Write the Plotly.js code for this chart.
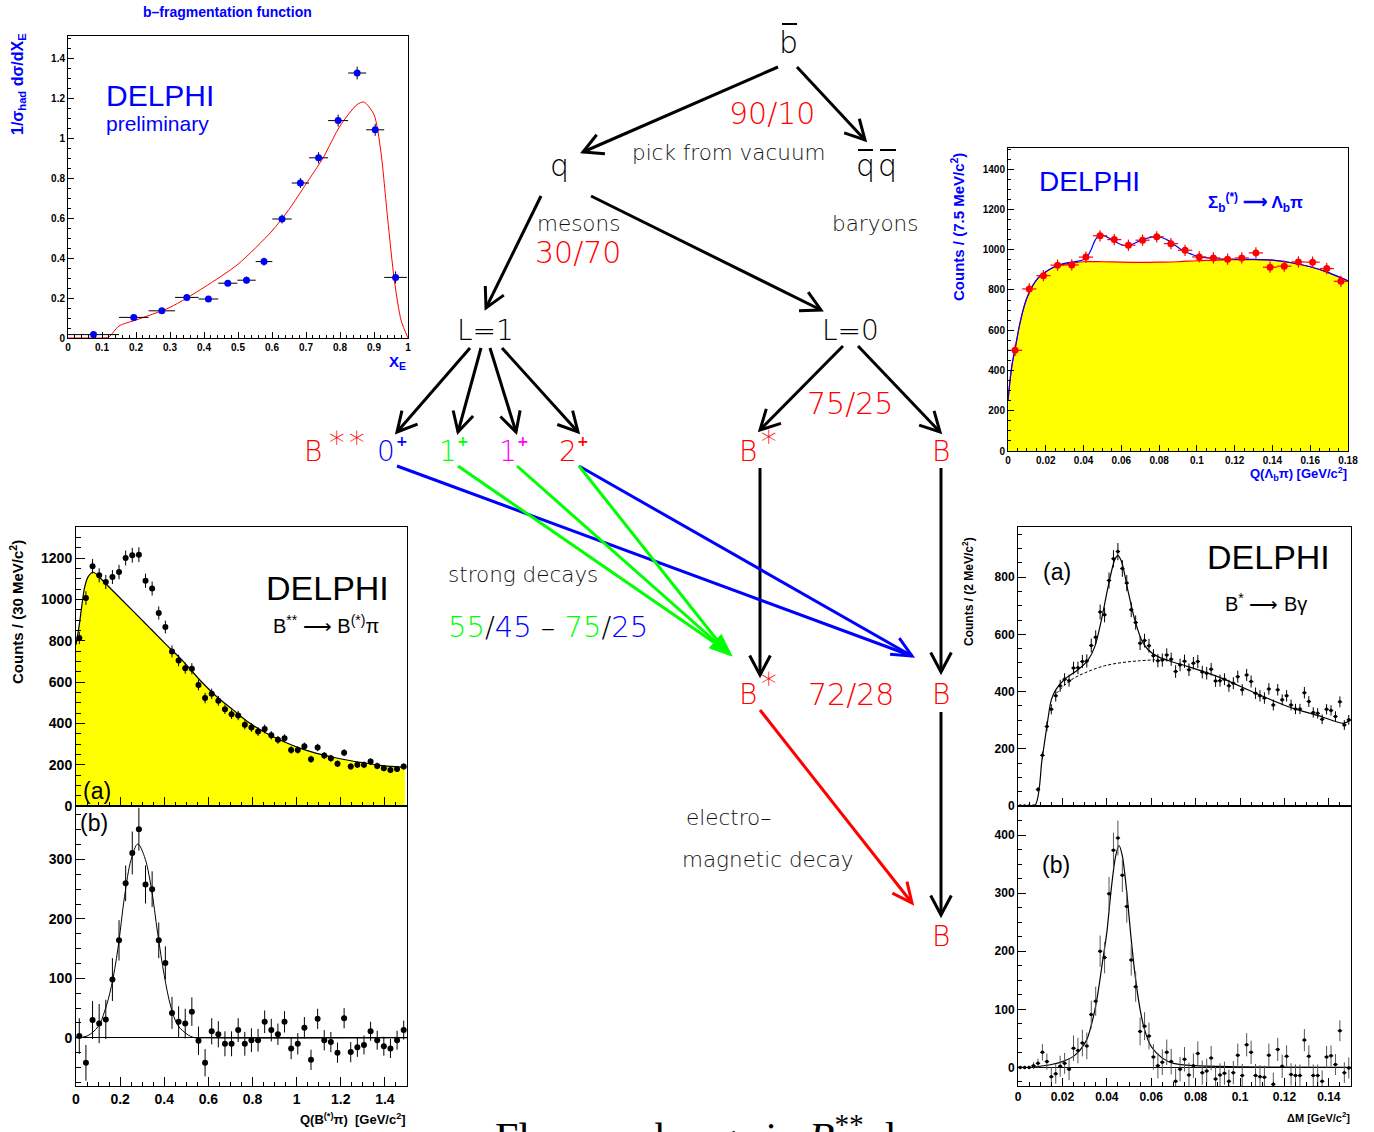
<!DOCTYPE html>
<html><head><meta charset="utf-8">
<script src="https://cdn.plot.ly/plotly-3.0.1.min.js"></script>
<style>body{margin:0;background:#fff}</style>
</head><body><div id="chart" style="width:1374px;height:1132px"></div>
<script>
// ---------------- DATA ----------------
// b-fragmentation function
const fragX    = [0.075,0.1935,0.276,0.3495,0.413,0.470,0.525,0.5765,0.6295,0.6835,0.737,0.7945,0.8505,0.9035,0.9635];
const fragXErr = [0.075,0.0435,0.039,0.0345,0.029,0.028,0.027,0.0245,0.0285,0.0255,0.028,0.0295,0.0265,0.0265,0.0335];
const fragY    = [0.017,0.103,0.136,0.203,0.195,0.274,0.289,0.382,0.595,0.775,0.901,1.087,1.325,1.041,0.303];
const fragYErr = [0.01,0.012,0.012,0.012,0.012,0.015,0.018,0.02,0.022,0.025,0.028,0.03,0.032,0.03,0.03];
const fragCurveX = [0,0.05,0.1,0.12,0.15,0.2,0.3,0.4,0.5,0.6,0.65,0.7,0.75,0.8,0.85,0.87,0.9,0.92,0.94,0.96,0.98,1.0];
const fragCurveY = [0,0,0,0.005,0.06,0.09,0.153,0.253,0.369,0.535,0.643,0.77,0.9,1.06,1.167,1.18,1.117,0.935,0.6,0.286,0.086,0];

// Sigma_b -> Lambda_b pi
const sigX = [0.00375,0.01125,0.01875,0.02625,0.03375,0.04125,0.04875,0.05625,0.06375,0.07125,0.07875,0.08625,0.09375,0.10125,0.10875,0.11625,0.12375,0.13125,0.13875,0.14625,0.15375,0.16125,0.16875,0.17625];
const sigY = [500,805,871,923,924,963,1069,1050,1022,1047,1064,1030,997,964,959,953,959,984,913,918,939,938,906,843];
const sigYErr = [28,28,28,28,28,28,28,28,28,28,28,28,28,28,28,28,28,28,28,28,28,28,28,28];
const sigXErr = [0.00375,0.00375,0.00375,0.00375,0.00375,0.00375,0.00375,0.00375,0.00375,0.00375,0.00375,0.00375,0.00375,0.00375,0.00375,0.00375,0.00375,0.00375,0.00375,0.00375,0.00375,0.00375,0.00375,0.00375];
const sigBgX = [0,0.002,0.004,0.006,0.008,0.01,0.013,0.016,0.02,0.025,0.03,0.035,0.04,0.05,0.06,0.07,0.08,0.09,0.1,0.11,0.12,0.13,0.14,0.15,0.16,0.17,0.18];
const sigBgY = [250,420,520,620,700,760,820,860,890,915,928,935,940,940,938,937,938,940,945,948,950,951,948,935,915,885,845];
const sigTotX = [0,0.002,0.004,0.006,0.008,0.01,0.013,0.016,0.02,0.025,0.03,0.035,0.04,0.042,0.044,0.046,0.048,0.05,0.052,0.055,0.058,0.061,0.064,0.067,0.07,0.073,0.076,0.079,0.082,0.085,0.088,0.091,0.094,0.097,0.1,0.105,0.11,0.12,0.13,0.14,0.15,0.16,0.17,0.18];
const sigTotY = [250,420,520,620,700,760,820,860,890,918,932,940,950,965,1000,1045,1070,1072,1065,1050,1033,1022,1022,1032,1045,1055,1062,1063,1058,1045,1025,1005,990,978,968,960,955,952,952,948,935,915,885,845];

// B** -> B(*) pi  (bin centres, 30 MeV bins)
const bssX = [0.015,0.045,0.075,0.105,0.135,0.165,0.195,0.225,0.255,0.285,0.315,0.345,0.375,0.405,0.435,0.465,0.495,0.525,0.555,0.585,0.615,0.645,0.675,0.705,0.735,0.765,0.795,0.825,0.855,0.885,0.915,0.945,0.975,1.005,1.035,1.065,1.095,1.125,1.155,1.185,1.215,1.245,1.275,1.305,1.335,1.365,1.395,1.425,1.455,1.485];
const bssAY = [813,1006,1160,1116,1084,1108,1132,1200,1213,1216,1090,1052,934,866,748,704,667,664,586,522,543,509,468,444,438,393,380,360,373,342,320,328,271,271,289,226,283,244,231,205,258,191,200,199,215,194,183,174,179,191];
const bssAErr = [30,33,35,34,34,34,35,36,36,36,34,34,32,31,29,28,27,27,26,25,25,24,23,23,23,22,21,21,21,20,19,19,18,18,18,17,18,17,17,16,17,16,16,16,16,16,15,15,15,15];
const bssBgX = [0,0.014,0.026,0.04,0.056,0.078,0.109,0.169,0.26,0.335,0.41,0.486,0.56,0.637,0.712,0.788,0.863,0.94,1.014,1.09,1.165,1.24,1.316,1.39,1.49];
const bssBgY = [780,870,966,1063,1111,1131,1103,1039,942,861,780,700,611,530,465,400,352,312,280,255,236,220,207,195,187];
const bssBY = [3,-42,30,24,31,98,164,260,311,351,258,250,164,126,42,27,24,44,-5,-42,11,6,-10,-10,13,-10,-4,-4,27,13,6,27,-18,-10,17,-37,32,-4,-7,-25,33,-24,-16,-12,11,-4,-14,-18,-4,13];
const bssBErr = [30,30,32,33,33,36,34,30,36,36,32,30,30,28,27,26,25,24,24,23,22,22,21,21,20,20,20,19,19,19,18,18,18,18,18,17,17,17,17,17,17,17,16,16,16,16,16,16,16,16];
const bssFitX = [0,0.05,0.1,0.13,0.16,0.19,0.22,0.25,0.28,0.31,0.34,0.37,0.4,0.43,0.46,0.49,0.53,0.6,1.5];
const bssFitY = [0,3,19,45,86,150,238,300,326,305,255,176,105,52,22,10,1,0,0];

// B* -> B gamma  (bin centres, 2 MeV bins)
const bsX = [0.001,0.003,0.005,0.007,0.009,0.011,0.013,0.015,0.017,0.019,0.021,0.023,0.025,0.027,0.029,0.031,0.033,0.035,0.037,0.039,0.041,0.043,0.045,0.047,0.049,0.051,0.053,0.055,0.057,0.059,0.061,0.063,0.065,0.067,0.069,0.071,0.073,0.075,0.077,0.079,0.081,0.083,0.085,0.087,0.089,0.091,0.093,0.095,0.097,0.099,0.101,0.103,0.105,0.107,0.109,0.111,0.113,0.115,0.117,0.119,0.121,0.123,0.125,0.127,0.129,0.131,0.133,0.135,0.137,0.139,0.141,0.143,0.145,0.147,0.149];
const bsXErr = [0.001,0.001,0.001,0.001,0.001,0.001,0.001,0.001,0.001,0.001,0.001,0.001,0.001,0.001,0.001,0.001,0.001,0.001,0.001,0.001,0.001,0.001,0.001,0.001,0.001,0.001,0.001,0.001,0.001,0.001,0.001,0.001,0.001,0.001,0.001,0.001,0.001,0.001,0.001,0.001,0.001,0.001,0.001,0.001,0.001,0.001,0.001,0.001,0.001,0.001,0.001,0.001,0.001,0.001,0.001,0.001,0.001,0.001,0.001,0.001,0.001,0.001,0.001,0.001,0.001,0.001,0.001,0.001,0.001,0.001,0.001,0.001,0.001,0.001,0.001];
const bsAY = [0,0,0,0,58,177,278,338,385,420,443,438,482,483,505,507,561,590,678,668,788,864,889,830,779,686,641,569,578,560,525,508,510,528,513,470,493,506,476,499,505,468,464,478,437,438,443,420,429,452,406,458,435,394,385,377,409,353,406,371,385,353,339,339,396,365,327,324,303,338,334,313,364,283,301];
const bsAErr = [0,0,0,0,8,13,17,18,20,21,21,21,22,22,23,23,24,24,26,26,28,30,30,29,28,26,25,24,24,24,23,23,23,23,23,22,22,23,22,22,23,22,22,22,21,21,21,21,21,21,20,21,21,20,20,20,20,19,20,19,20,19,18,18,20,19,18,18,17,18,18,18,19,17,17];
const bsAFitX = [0,0.0075,0.0108,0.013,0.015,0.017,0.021,0.027,0.0316,0.0346,0.0376,0.0406,0.0436,0.045,0.0466,0.0496,0.0526,0.0556,0.0586,0.063,0.069,0.0767,0.0917,0.107,0.1218,0.1368,0.1465,0.15];
const bsAFitY = [0,0,161,278,371,406,443,476,511,557,651,767,861,875,855,750,651,581,546,522,505,487,447,394,347,312,289,301];
const bsABgX = [0.0173,0.024,0.0316,0.039,0.0466,0.054,0.0616];
const bsABgY = [394,441,470,490,501,507,511];
const bsBY = [0,0,0,3,7,26,10,-16,-11,2,7,-3,33,29,42,37,91,114,200,189,299,374,395,331,277,185,139,62,71,54,18,3,9,26,10,-24,-3,14,-13,3,24,-9,-6,16,-20,-13,-10,-24,-9,21,-14,39,26,-14,-16,-17,21,-29,31,2,19,-12,-14,-14,47,19,-14,-14,-24,18,20,5,63,-9,-1];
const bsBErr = [3,3,3,6,8,14,14,16,17,18,18,19,22,22,23,23,24,25,27,27,29,30,30,29,28,27,26,24,24,23,22,22,22,22,22,22,21,21,21,21,21,21,21,21,21,20,20,20,20,20,20,20,20,20,20,20,20,20,20,20,19,19,19,19,19,19,19,19,19,19,18,18,18,18,18];
const bsBFitX = [0,0.005,0.01,0.015,0.02,0.025,0.028,0.031,0.034,0.036,0.038,0.04,0.042,0.044,0.0455,0.047,0.049,0.051,0.053,0.055,0.057,0.06,0.065,0.07,0.08,0.1,0.15];
const bsBFitY = [0,0,2,5,10,19,30,48,88,128,180,232,307,364,382,364,301,220,151,100,65,36,16,7,3,1,0];

// ---------------- LAYOUT HELPERS ----------------
const W = 1374, H = 1132;
const X = v => v / W, Y = v => 1 - v / H;
const TF = 'Liberation Sans';
const DF = 'DejaVu Sans';
const RED = '#ff0000', BLUE = '#0000ff', GREEN = '#00ff00', MAG = '#ff00ff';

function axis(d0, d1, range, dtick, minor, fs, showLabels, isY, tlen) {
  return {
    domain: isY ? [Y(d1), Y(d0)] : [X(d0), X(d1)],
    range: range, autorange: false, dtick: dtick, tick0: 0,
    ticks: 'inside', ticklen: tlen || 6, tickwidth: 1, tickcolor: '#000',
    minor: {dtick: minor, ticks: 'inside', ticklen: (tlen || 6) / 2, tickcolor: '#000', tickwidth: 1},
    showline: true, linecolor: '#000', linewidth: 1, mirror: true,
    showgrid: false, zeroline: false, showticklabels: showLabels,
    tickfont: {family: TF, size: fs, color: '#000', weight: 'bold'},
    fixedrange: true
  };
}

const traces = [];
// fragmentation
traces.push({x: fragCurveX, y: fragCurveY, xaxis: 'x', yaxis: 'y', mode: 'lines', line: {color: RED, width: 1, shape: 'spline', smoothing: 0.7}});
traces.push({x: fragX, y: fragY, xaxis: 'x', yaxis: 'y', mode: 'markers', marker: {color: BLUE, size: 7},
  error_x: {type: 'data', array: fragXErr, color: '#000', thickness: 1, width: 0},
  error_y: {type: 'data', array: fragYErr, color: '#000', thickness: 1, width: 0}});
// sigma_b
traces.push({x: sigBgX, y: sigBgY, xaxis: 'x2', yaxis: 'y2', mode: 'lines', fill: 'tozeroy', fillcolor: '#ffff00', line: {color: RED, width: 1.2, shape: 'spline'}});
traces.push({x: sigTotX, y: sigTotY, xaxis: 'x2', yaxis: 'y2', mode: 'lines', line: {color: BLUE, width: 1.2, shape: 'spline'}});
traces.push({x: sigX, y: sigY, xaxis: 'x2', yaxis: 'y2', mode: 'markers', marker: {color: RED, size: 7},
  error_x: {type: 'data', array: sigXErr, color: RED, thickness: 1.2, width: 0},
  error_y: {type: 'data', array: sigYErr, color: RED, thickness: 1.2, width: 0}});
// B** (a)
traces.push({x: bssBgX, y: bssBgY, xaxis: 'x3', yaxis: 'y3', mode: 'lines', fill: 'tozeroy', fillcolor: '#ffff00', line: {color: '#000', width: 1.2, shape: 'spline'}});
traces.push({x: bssX, y: bssAY, xaxis: 'x3', yaxis: 'y3', mode: 'markers', marker: {color: '#000', size: 6},
  error_y: {type: 'data', array: bssAErr, color: '#000', thickness: 1, width: 0}});
// B** (b)
traces.push({x: bssFitX, y: bssFitY, xaxis: 'x4', yaxis: 'y4', mode: 'lines', line: {color: '#000', width: 1, shape: 'spline'}});
traces.push({x: bssX, y: bssBY, xaxis: 'x4', yaxis: 'y4', mode: 'markers', marker: {color: '#000', size: 6},
  error_y: {type: 'data', array: bssBErr, color: '#000', thickness: 1, width: 0}});
// B* (a)
traces.push({x: bsABgX, y: bsABgY, xaxis: 'x5', yaxis: 'y5', mode: 'lines', line: {color: '#000', width: 1, dash: '3px,2px', shape: 'spline'}});
traces.push({x: bsAFitX, y: bsAFitY, xaxis: 'x5', yaxis: 'y5', mode: 'lines', line: {color: '#000', width: 1.2, shape: 'spline', smoothing: 0.8}});
traces.push({x: bsX, y: bsAY, xaxis: 'x5', yaxis: 'y5', mode: 'markers', marker: {color: '#000', size: 3.5},
  error_x: {type: 'data', array: bsXErr, color: '#000', thickness: 1, width: 0},
  error_y: {type: 'data', array: bsAErr, color: '#000', thickness: 1, width: 0}});
// B* (b)
traces.push({x: bsBFitX, y: bsBFitY, xaxis: 'x6', yaxis: 'y6', mode: 'lines', line: {color: '#000', width: 1.2, shape: 'spline', smoothing: 0.8}});
traces.push({x: bsX, y: bsBY, xaxis: 'x6', yaxis: 'y6', mode: 'markers', marker: {color: '#000', size: 3.5},
  error_x: {type: 'data', array: bsXErr, color: '#000', thickness: 1, width: 0},
  error_y: {type: 'data', array: bsBErr, color: '#555', thickness: 1, width: 0}});

// ---------------- ANNOTATIONS ----------------
function T(x, y, text, size, color, o) {
  o = o || {};
  return Object.assign({
    xref: 'paper', yref: 'paper', x: X(x), y: Y(y), text: text, showarrow: false,
    xanchor: 'center', yanchor: 'middle',
    font: {family: o.family || DF, size: size, color: color, weight: o.weight || 300},
    textangle: o.angle || 0
  }, o.extra || {});
}
const B = {family: TF, weight: 'bold'};
const ann = [
  // plot titles / axis titles
  T(227, 12, 'b–fragmentation function', 14, BLUE, B),
  T(19, 84, '1/σ<sub>had</sub> dσ/dX<sub>E</sub>', 16, BLUE, {family: TF, weight: 'bold', angle: -90}),
  T(408, 362, 'X<sub>E</sub>', 15, BLUE, {family: TF, weight: 'bold', extra: {xanchor: 'right'}}),
  T(958, 227, 'Counts / (7.5 MeV/c<sup>2</sup>)', 15, BLUE, {family: TF, weight: 'bold', angle: -90}),
  T(1349, 474, 'Q(Λ<sub>b</sub>π) [GeV/c<sup>2</sup>]', 13, BLUE, {family: TF, weight: 'bold', extra: {xanchor: 'right'}}),
  T(16, 612, 'Counts / (30 MeV/c<sup>2</sup>)', 15, '#000', {family: TF, weight: 'bold', angle: -90}),
  T(408, 1119, 'Q(B<sup>(*)</sup>π)  [GeV/c<sup>2</sup>]', 13, '#000', {family: TF, weight: 'bold', extra: {xanchor: 'right'}}),
  T(968, 592, 'Counts / (2 MeV/c<sup>2</sup>)', 12, '#000', {family: TF, weight: 'bold', angle: -90}),
  T(1352, 1117, 'ΔM [GeV/c<sup>2</sup>]', 11, '#000', {family: TF, weight: 'bold', extra: {xanchor: 'right'}}),
  // in-plot labels
  T(104, 95, 'DELPHI', 30, BLUE, {family: TF, weight: 400, extra: {xanchor: 'left'}}),
  T(104, 123, 'preliminary', 21, BLUE, {family: TF, weight: 400, extra: {xanchor: 'left'}}),
  T(1089, 181, 'DELPHI', 28, BLUE, {family: TF, weight: 400}),
  T(1255, 203, 'Σ<sub>b</sub><sup>(*)</sup> ⟶ Λ<sub>b</sub>π', 17, BLUE, {family: TF, weight: 'bold'}),
  T(327, 588, 'DELPHI', 34, '#000', {family: TF, weight: 400}),
  T(326, 624, 'B<sup>**</sup> ⟶ B<sup>(*)</sup>π', 20, '#000', {family: TF, weight: 400}),
  T(97, 791, '(a)', 23, '#000', {family: TF, weight: 400}),
  T(94, 823, '(b)', 23, '#000', {family: TF, weight: 400}),
  T(1268, 557, 'DELPHI', 34, '#000', {family: TF, weight: 400}),
  T(1266, 602, 'B<sup>*</sup> ⟶ Bγ', 20, '#000', {family: TF, weight: 400}),
  T(1057, 572, '(a)', 23, '#000', {family: TF, weight: 400}),
  T(1056, 865, '(b)', 23, '#000', {family: TF, weight: 400}),
  // diagram
  T(789, 42, 'b', 30, '#000'),
  T(559, 165, 'q', 30, '#000'),
  T(866, 165, 'q', 30, '#000'),
  T(888, 165, 'q', 30, '#000'),
  T(772, 113, '90/10', 30, RED),
  T(729, 152, 'pick from vacuum', 21.5, '#111', {weight: 200}),
  T(578, 224, 'mesons', 21.5, '#111', {weight: 200}),
  T(578, 252, '30/70', 30, RED),
  T(875, 224, 'baryons', 21.5, '#111', {weight: 200}),
  T(485, 330, 'L=1', 28, '#000'),
  T(850, 330, 'L=0', 28, '#000'),
  T(850, 403, '75/25', 30, RED),
  T(313, 452, 'B', 28, RED),
  T(347, 437, '∗∗', 32, RED, {weight: 300}),
  T(386, 452, '0', 28, BLUE), T(402, 441, '+', 14, BLUE, {weight: 'bold'}),
  T(448, 452, '1', 28, GREEN), T(463, 441, '+', 14, GREEN, {weight: 'bold'}),
  T(508, 452, '1', 28, MAG), T(523, 441, '+', 14, MAG, {weight: 'bold'}),
  T(568, 452, '2', 28, RED), T(583, 441, '+', 14, RED, {weight: 'bold'}),
  T(748, 452, 'B', 28, RED), T(769, 436, '∗', 32, RED, {weight: 300}),
  T(941, 452, 'B', 28, RED),
  T(523, 575, 'strong decays', 21.5, '#111', {weight: 200}),
  T(548, 627, '<span style="color:#00ff00">55</span>/<span style="color:#0000ff">45</span> – <span style="color:#00ff00">75</span>/<span style="color:#0000ff">25</span>', 29, '#000'),
  T(748, 694, 'B', 28, RED), T(769, 678, '∗', 32, RED, {weight: 300}),
  T(851, 694, '72/28', 30, RED),
  T(941, 694, 'B', 28, RED),
  T(728, 817, 'electro–', 21.5, '#111', {weight: 200}),
  T(768, 859, 'magnetic decay', 21.5, '#111', {weight: 200}),
  T(941, 936, 'B', 28, RED),
  T(734, 1106, 'Flavour change in <i>B</i><sup>**</sup> decay', 42, '#000', {family: 'Liberation Serif', weight: 400, extra: {yanchor: 'top'}})
];

// ---------------- ARROWS (shapes) ----------------
function seg(x0, y0, x1, y1, c, w) {
  return {type: 'line', xref: 'paper', yref: 'paper', x0: X(x0), y0: Y(y0), x1: X(x1), y1: Y(y1), line: {color: c, width: w}};
}
function head(x0, y0, x1, y1, c, w, len, ang, filled) {
  const L = Math.hypot(x1 - x0, y1 - y0), ux = (x0 - x1) / L, uy = (y0 - y1) / L, a = ang * Math.PI / 180;
  const r = s => [x1 + len * (ux * Math.cos(s) - uy * Math.sin(s)), y1 + len * (ux * Math.sin(s) + uy * Math.cos(s))];
  const p = r(a), q = r(-a);
  const path = 'M' + X(p[0]) + ',' + Y(p[1]) + ' L' + X(x1) + ',' + Y(y1) + ' L' + X(q[0]) + ',' + Y(q[1]) + (filled ? ' Z' : '');
  return {type: 'path', xref: 'paper', yref: 'paper', path: path, line: {color: c, width: filled ? 1 : w}, fillcolor: filled ? c : 'rgba(0,0,0,0)'};
}
const blackArrows = [
  [778, 67, 583, 152], [797, 67, 865, 140], [541, 196, 486, 308], [591, 196, 821, 310],
  [470, 348, 397, 432], [481, 348, 458, 432], [490, 348, 516, 432], [502, 348, 578, 432],
  [843, 346, 760, 430], [858, 346, 940, 432],
  [760, 468, 760, 675], [941, 468, 941, 672], [941, 712, 941, 915]
];
const shapes = [];
blackArrows.forEach(a => { shapes.push(seg(a[0], a[1], a[2], a[3], '#000', 3)); shapes.push(head(a[0], a[1], a[2], a[3], '#000', 3, 22, 28, false)); });
// coloured decay arrows
shapes.push(seg(397, 466, 912, 656, BLUE, 3));
shapes.push(seg(579, 466, 912, 656, BLUE, 3));
shapes.push(head(579, 466, 912, 656, BLUE, 3, 22, 25, false));
shapes.push(seg(458, 466, 725, 650, GREEN, 3));
shapes.push(seg(517, 466, 725, 650, GREEN, 3));
shapes.push(seg(579, 466, 725, 650, GREEN, 3));
shapes.push(head(517, 466, 732, 656, GREEN, 3, 24, 22, true));
shapes.push(seg(760, 710, 912, 903, RED, 3));
shapes.push(head(760, 710, 912, 903, RED, 3, 22, 25, false));
// overbars
shapes.push(seg(782, 24, 797, 24, '#000', 2));
shapes.push(seg(858, 150, 873, 150, '#000', 2));
shapes.push(seg(880, 150, 896, 150, '#000', 2));

const layout = {
  width: W, height: H, margin: {l: 0, r: 0, t: 0, b: 0},
  paper_bgcolor: '#fff', plot_bgcolor: '#fff', showlegend: false, hovermode: false,
  xaxis:  axis(68, 408, [0, 1], 0.1, 0.02, 10, true, false, 6),
  yaxis:  axis(36, 338, [0, 1.51], 0.2, 0.05, 10, true, true, 6),
  xaxis2: axis(1008, 1348, [0, 0.18], 0.02, 0.005, 10, true, false, 6),
  yaxis2: axis(148, 451, [0, 1505], 200, 50, 10, true, true, 6),
  xaxis3: axis(76, 407, [0, 1.5], 0.2, 0.05, 14, false, false, 9),
  yaxis3: axis(527, 806, [0, 1350], 200, 50, 14, true, true, 9),
  xaxis4: axis(76, 407, [0, 1.5], 0.2, 0.05, 14, true, false, 9),
  yaxis4: axis(806, 1086, [-81, 390], 100, 25, 14, true, true, 9),
  xaxis5: axis(1018, 1351, [0, 0.15], 0.02, 0.005, 12, false, false, 8),
  yaxis5: axis(527, 806, [0, 975], 200, 50, 12, true, true, 8),
  xaxis6: axis(1018, 1351, [0, 0.15], 0.02, 0.005, 12, true, false, 8),
  yaxis6: axis(806, 1086, [-32, 450], 100, 25, 12, true, true, 8),
  annotations: ann, shapes: shapes
};
['xaxis', 'xaxis2', 'xaxis3', 'xaxis4', 'xaxis5', 'xaxis6'].forEach((k, i) => { layout[k].anchor = 'y' + (i ? i + 1 : ''); });
['yaxis', 'yaxis2', 'yaxis3', 'yaxis4', 'yaxis5', 'yaxis6'].forEach((k, i) => { layout[k].anchor = 'x' + (i ? i + 1 : ''); });
layout.yaxis4.zeroline = true; layout.yaxis4.zerolinecolor = '#000'; layout.yaxis4.zerolinewidth = 1;
layout.yaxis6.zeroline = true; layout.yaxis6.zerolinecolor = '#000'; layout.yaxis6.zerolinewidth = 1;

Plotly.newPlot('chart', traces, layout, {staticPlot: true, displayModeBar: false});
</script></body></html>
